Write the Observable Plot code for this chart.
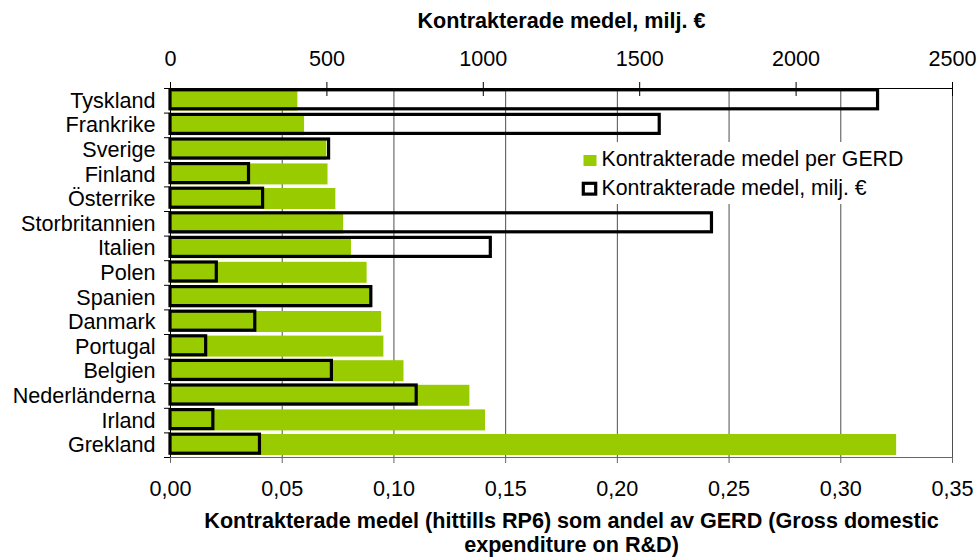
<!DOCTYPE html>
<html>
<head>
<meta charset="utf-8">
<script src="https://cdn.jsdelivr.net/npm/d3@7"></script>
<script src="https://cdn.jsdelivr.net/npm/@observablehq/plot@0.6"></script>
<style>
  html, body { margin: 0; padding: 0; background: #fff; }
  #wrap { position: relative; width: 977px; height: 557px; font-family: "Liberation Sans", Arial, sans-serif; }
  #legend { position: absolute; left: 0; top: 0; pointer-events: none; }
</style>
</head>
<body>
<div id="wrap"></div>
<script>
const countries = ["Tyskland","Frankrike","Sverige","Finland","Österrike","Storbritannien","Italien","Polen","Spanien","Danmark","Portugal","Belgien","Nederländerna","Irland","Grekland"];
const perGerd = [0.057, 0.060, 0.070, 0.0705, 0.074, 0.0775, 0.081, 0.088, 0.090, 0.0945, 0.0955, 0.1045, 0.134, 0.141, 0.325];
const miljEuro = [2262, 1564, 507, 251, 296, 1731, 1024, 148, 642, 271, 114, 516, 787, 137, 286];
const bottomTicks = [0, 0.05, 0.10, 0.15, 0.20, 0.25, 0.30, 0.35];
const topTicks = [0, 500, 1000, 1500, 2000, 2500];
const topTitle = "Kontrakterade medel, milj. €";
const bottomTitle = "Kontrakterade medel (hittills RP6) som andel av GERD (Gross domestic\nexpenditure on R&D)";
const legendLabels = ["Kontrakterade medel per GERD", "Kontrakterade medel, milj. €"];

const green = "#99CC00";
const xMax = 0.35, topMax = 2500;
const k = xMax / topMax; // map milj. € onto the shared x scale

const rows = countries.map((c, i) => ({country: c, gerd: perGerd[i], milj: miljEuro[i], mx: miljEuro[i] * k}));
const band = (557 - 88 - 100) / countries.length;

const chart = Plot.plot({
  width: 977,
  height: 557,
  marginLeft: 170,
  marginRight: 25,
  marginTop: 88,
  marginBottom: 100,
  style: {fontFamily: '"Liberation Sans", Arial, sans-serif', fontSize: "21.6px", color: "#000", background: "#fff"},
  x: {domain: [0, xMax]},
  y: {domain: countries, padding: 0, round: false},
  marks: [
    // gridlines
    Plot.ruleX(bottomTicks.slice(1), {stroke: "#222", strokeWidth: 1, strokeOpacity: 0.8}),
    // green bars
    Plot.barX(rows, {y: "country", x: "gerd", fill: green, insetTop: 1.6, insetBottom: 2}),
    // outlined bars
    Plot.barX(rows, {y: "country", x: "mx", fill: "none", stroke: "#000", strokeWidth: 3.2, insetTop: 1.8, insetBottom: 3.8}),
    // frame lines
    Plot.frame({anchor: "top", stroke: "#000"}),
    Plot.frame({anchor: "bottom", stroke: "#666"}),
    Plot.ruleX([0], {stroke: "#000"}),
    // bottom axis
    Plot.axisX({anchor: "bottom", ticks: bottomTicks, tickSize: 6, tickPadding: 17, stroke: "#666",
      tickFormat: d => d.toFixed(2).replace(".", ","), label: null}),
    // top axis ticks (crossing)
    Plot.axisX({anchor: "top", ticks: topTicks.map(v => v * k), tickSize: 14, dy: 7, tickFormat: () => "", label: null}),
    // top axis labels
    Plot.axisX({anchor: "top", ticks: topTicks.map(v => v * k), tickSize: 0, tickPadding: 23,
      tickFormat: d => String(Math.round(d / k)), label: null}),
    // y axis labels
    Plot.axisY({tickSize: 0, tickPadding: 15, label: null}),
    // y band boundary ticks
    Plot.axisY({ticks: countries, tickSize: 6, dy: -band / 2, tickFormat: () => "", label: null}),
    Plot.axisY({ticks: [countries[countries.length - 1]], tickSize: 6, dy: band / 2, tickFormat: () => "", label: null}),
    // titles
    Plot.text([topTitle], {frameAnchor: "top", text: d => d, lineAnchor: "bottom", dy: -61, fontWeight: "bold", fontSize: 21.6}),
    Plot.text([bottomTitle], {frameAnchor: "bottom", text: d => d, lineAnchor: "top", dy: 53, dx: 10, fontWeight: "bold", fontSize: 21.6, lineHeight: 1.12})
  ]
});

const wrap = document.getElementById("wrap");
wrap.appendChild(chart);

// legend overlay
const ns = "http://www.w3.org/2000/svg";
const lg = document.createElementNS(ns, "svg");
lg.setAttribute("id", "legend");
lg.setAttribute("width", 977);
lg.setAttribute("height", 557);
lg.innerHTML = `
  <rect x="575" y="142" width="345" height="62" fill="#fff"/>
  <rect x="583.5" y="155" width="13" height="11" fill="${green}"/>
  <text x="601.5" y="166" font-size="21.3" font-family="Liberation Sans, Arial, sans-serif" fill="#000">${legendLabels[0]}</text>
  <rect x="583.3" y="183.3" width="12.4" height="10.8" fill="#fff" stroke="#000" stroke-width="3.2"/>
  <text x="601.5" y="195" font-size="21.3" font-family="Liberation Sans, Arial, sans-serif" fill="#000">${legendLabels[1]}</text>`;
wrap.appendChild(lg);
</script>
</body>
</html>
